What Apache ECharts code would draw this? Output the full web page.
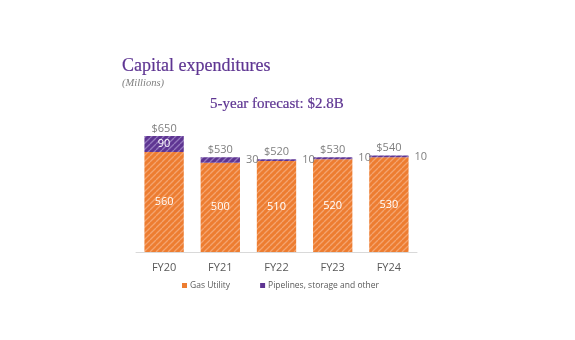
<!DOCTYPE html>
<html>
<head>
<meta charset="utf-8">
<style>
  html, body { margin: 0; padding: 0; background: #ffffff; }
  #chart { width: 575px; height: 340px; }
</style>
<script src="https://cdn.jsdelivr.net/npm/echarts@6/dist/echarts.min.js"></script>
</head>
<body>
<div id="chart"></div>
<script>
// Capital expenditures by fiscal year, in millions
const categories = ['FY20', 'FY21', 'FY22', 'FY23', 'FY24'];
const gasUtility = [560, 500, 510, 520, 530];
const pipelines = [90, 30, 10, 10, 10];
const totals = [650, 530, 520, 530, 540];

// Diagonal hatch fill built on a small tile canvas
function hatch(base, stripe) {
  const s = 6;
  const c = document.createElement('canvas');
  c.width = s; c.height = s;
  const g = c.getContext('2d');
  g.fillStyle = base;
  g.fillRect(0, 0, s, s);
  g.strokeStyle = stripe;
  g.lineWidth = 1.3;
  for (let k = -1; k <= 1; k++) {
    g.beginPath();
    g.moveTo(k * s, s);
    g.lineTo(k * s + s, 0);
    g.stroke();
  }
  return { image: c, repeat: 'repeat' };
}

const orangeFill = hatch('#ED7D31', '#F4A46F');
const purpleFill = hatch('#5E3592', '#9478BE');

const chart = echarts.init(document.getElementById('chart'), null, { renderer: 'canvas' });

const sansFont = '"Open Sans", "Noto Sans", sans-serif';
const serifFont = '"Liberation Serif", serif';

chart.setOption({
  animation: false,
  backgroundColor: '#ffffff',
  title: [
    {
      text: 'Capital expenditures',
      left: 122, top: 57, padding: 0,
      textStyle: { fontFamily: serifFont, fontSize: 18, fontWeight: 'normal', color: '#5E3592', textBorderColor: '#5E3592', textBorderWidth: 0.2 }
    },
    {
      text: '(Millions)',
      left: 122, top: 78, padding: 0,
      textStyle: { fontFamily: serifFont, fontSize: 10.5, fontStyle: 'italic', fontWeight: 'normal', color: '#7f7f7f' }
    },
    {
      text: '5-year forecast: $2.8B',
      left: 210, top: 97, padding: 0,
      textStyle: { fontFamily: serifFont, fontSize: 15, fontWeight: 'normal', color: '#5E3592', textBorderColor: '#5E3592', textBorderWidth: 0.2 }
    }
  ],
  legend: {
    top: 281,
    left: 182,
    padding: 0,
    itemWidth: 5,
    itemHeight: 5,
    itemGap: 30,
    icon: 'rect',
    data: [
      { name: 'Gas Utility', itemStyle: { color: '#ED7D31' } },
      { name: 'Pipelines, storage and other', itemStyle: { color: '#5E3592' } }
    ],
    textStyle: { fontFamily: sansFont, fontSize: 8.5, color: '#595959', padding: [0, 0, 0, -2] }
  },
  grid: { left: 136, right: 158, top: 127, bottom: 88 },
  xAxis: {
    type: 'category',
    data: categories,
    axisLine: { lineStyle: { color: '#d9d9d9', width: 1 } },
    axisTick: { show: false },
    axisLabel: { color: '#595959', fontFamily: sansFont, fontSize: 11, margin: 10 }
  },
  yAxis: {
    type: 'value',
    min: 0, max: 700,
    show: false,
    splitLine: { show: false }
  },
  series: [
    {
      name: 'Gas Utility',
      type: 'bar',
      stack: 'capex',
      barWidth: '70%',
      barGap: '-100%',
      data: gasUtility,
      itemStyle: { color: orangeFill },
      label: {
        show: true, position: 'inside',
        color: '#ffffff', fontFamily: sansFont, fontSize: 11
      }
    },
    {
      name: 'Pipelines, storage and other',
      type: 'bar',
      stack: 'capex',
      barWidth: '70%',
      barGap: '-100%',
      data: pipelines.map((v, i) => ({
        value: v,
        label: i === 0
          ? { position: 'inside', color: '#ffffff' }
          : { position: 'right', color: '#7f7f7f', distance: 6 }
      })),
      itemStyle: { color: purpleFill },
      label: { show: true, fontFamily: sansFont, fontSize: 11 }
    },
    {
      name: 'Total',
      type: 'bar',
      barWidth: '70%',
      barGap: '-100%',
      data: totals,
      itemStyle: { color: 'rgba(0,0,0,0)' },
      silent: true,
      z: 0,
      label: {
        show: true, position: 'top', distance: 2,
        formatter: p => '$' + p.value,
        color: '#7f7f7f', fontFamily: sansFont, fontSize: 11
      }
    }
  ]
});
</script>
</body>
</html>
